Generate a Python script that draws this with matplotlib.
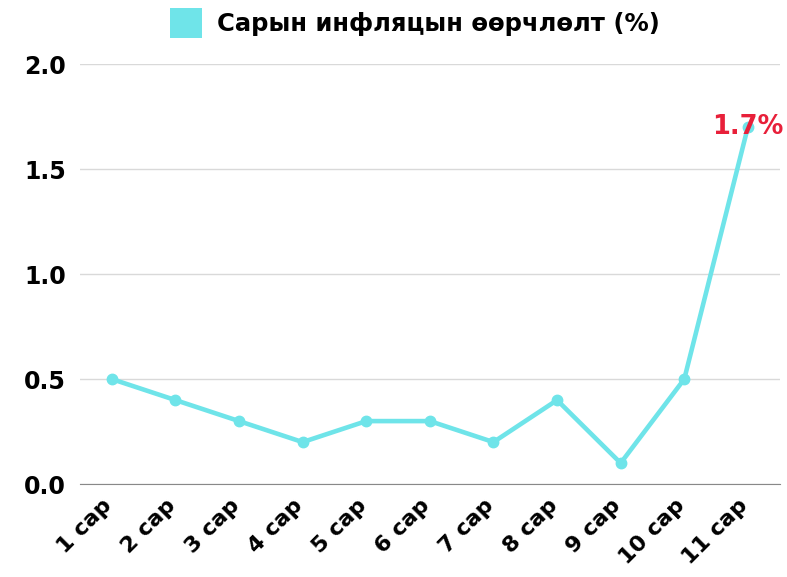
import matplotlib.pyplot as plt
from matplotlib.patches import Patch
from matplotlib.transforms import ScaledTranslation

months = ["1 сар", "2 сар", "3 сар", "4 сар", "5 сар", "6 сар",
          "7 сар", "8 сар", "9 сар", "10 сар", "11 сар"]
inflation = [0.5, 0.4, 0.3, 0.2, 0.3, 0.3, 0.2, 0.4, 0.1, 0.5, 1.7]
y_ticks = [0.0, 0.5, 1.0, 1.5, 2.0]
series_name = "Сарын инфляцын өөрчлөлт (%)"

LINE = "#6fe4e9"
RED = "#e8203a"

plt.rcParams["font.family"] = ["DejaVu Sans"]
plt.rcParams["font.weight"] = "bold"

fig = plt.figure(figsize=(7.87, 5.77), dpi=100)
ax = fig.add_axes([0.1017, 0.161, 0.889, 0.728])

x = list(range(len(months)))
ax.plot(x, inflation, color=LINE, lw=3.3, marker="o", ms=7.5, zorder=3)
ax.text(x[-1], inflation[-1], f"{inflation[-1]}%", color=RED, fontsize=18.5,
        fontweight="bold", ha="center", va="center", zorder=4)

ax.set_xlim(-0.5, len(months) - 0.5)
ax.set_ylim(0, 2.0)
ax.set_yticks(y_ticks)
ax.set_yticklabels([f"{v:.1f}" for v in y_ticks], fontsize=17, fontweight="bold")
ax.set_xticks(x)
ax.set_xticklabels(months, rotation=45, ha="right", rotation_mode="anchor",
                   fontsize=16, fontweight="bold")
ax.tick_params(axis="y", length=0, pad=10)
ax.tick_params(axis="x", length=0, pad=8)
# nudge the rotated labels a little to the left, like the original
shift = ScaledTranslation(-10 / 100, 0, fig.dpi_scale_trans)
for lbl in ax.get_xticklabels():
    lbl.set_transform(lbl.get_transform() + shift)
ax.grid(axis="y", color="#d9d9d9", lw=1)
ax.set_axisbelow(True)
for s in ["top", "right", "left"]:
    ax.spines[s].set_visible(False)
ax.spines["bottom"].set_color("#888888")

handle = Patch(facecolor=LINE, edgecolor="none")
fig.legend([handle], [series_name], loc="upper center", bbox_to_anchor=(0.527, 1.024),
           frameon=False, prop={"weight": "bold", "size": 17.5},
           handlelength=1.35, handleheight=1.5, handletextpad=0.6)

fig.savefig("out.png", dpi=100)
